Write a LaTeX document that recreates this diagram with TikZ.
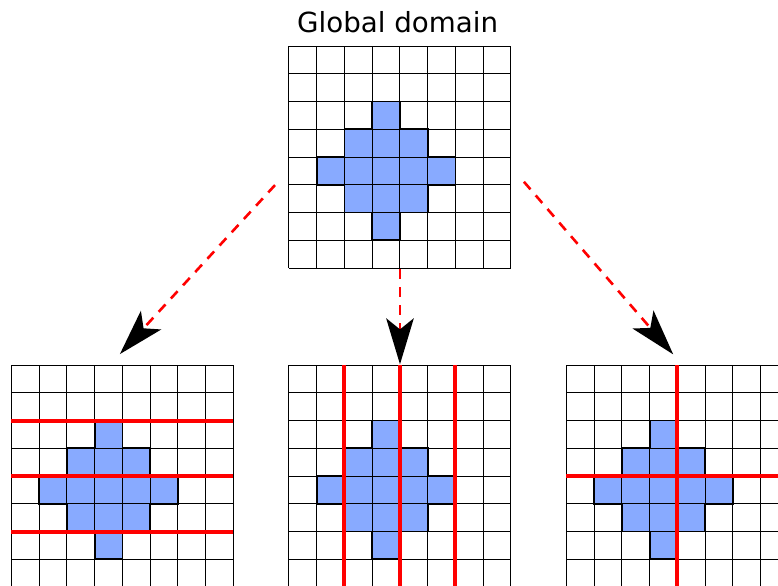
\documentclass[tikz,border=0pt]{standalone}
\usepackage{fontspec}
\setmainfont{DejaVu Sans}
\usetikzlibrary{arrows.meta}
\definecolor{CellBlue}{RGB}{136,170,255}
\tikzset{
  % one unit = one grid cell
  gridline/.style={black,line width=0.5pt},
  shapeline/.style={black,line width=0.9pt,line join=miter},
  cut/.style={red,line width=2pt},
  split/.style={red,line width=1.3pt,dash pattern=on 5pt off 4pt,
    -{Stealth[black,length=23pt,width=13.75pt,inset=5.5pt]}},
  title/.style={font=\fontsize{13.85}{16}\selectfont,inner sep=0pt}
}
% 8x8 domain with the blue region
\newcommand{\domaingrid}{%
  \fill[CellBlue] (3,2) rectangle (4,7) (2,3) rectangle (5,6) (1,4) rectangle (6,5);
  \foreach \k in {0,...,8} {
    \draw[gridline] (\k,0) -- (\k,8);
    \draw[gridline] (0,\k) -- (8,\k);
  }
  \draw[shapeline] (3,2) -| (4,3) -| (5,4) -| (6,5) -| (5,6) -| (4,7)
    -| (3,6) -| (2,5) -| (1,4) -| (2,3) -| (3,2) -- cycle;
}

\begin{document}
\begin{tikzpicture}[x=13.875pt,y=-13.875pt]
  \useasboundingbox (0,0) rectangle (28.036,21.081);
  \clip (0,0) rectangle (28.036,21.081);

  \coordinate (global) at (10.414,1.658);
  \coordinate (rows) at (0.414,13.153);
  \coordinate (cols) at (10.414,13.153);
  \coordinate (blocks) at (20.414,13.153);

  \node[title,anchor=base] (caption) at (14.33,1.17) {Global domain};

  % global domain
  \begin{scope}[shift={(global)}]
    \domaingrid
  \end{scope}

  % split in rows
  \begin{scope}[shift={(rows)}]
    \domaingrid
    \foreach \r in {2,4,6} \draw[cut] (0,\r) -- (8,\r);
  \end{scope}

  % split in columns
  \begin{scope}[shift={(cols)}]
    \domaingrid
    \foreach \c in {2,4,6} \draw[cut] (\c,0) -- (\c,8);
  \end{scope}

  % split in blocks
  \begin{scope}[shift={(blocks)}]
    \domaingrid
    \draw[cut] (4,0) -- (4,8);
    \draw[cut] (0,4) -- (8,4);
  \end{scope}

  % arrows
  \coordinate (from rows) at (9.91,6.67);
  \coordinate (to rows) at (4.32,12.76);
  \coordinate (from cols) at (14.414,9.70);
  \coordinate (to cols) at (14.414,13.13);
  \coordinate (from blocks) at (18.88,6.55);
  \coordinate (to blocks) at (24.26,12.77);
  \draw[split] (from rows) -- (to rows);
  \draw[split] (from cols) -- (to cols);
  \draw[split] (from blocks) -- (to blocks);
\end{tikzpicture}
\end{document}
